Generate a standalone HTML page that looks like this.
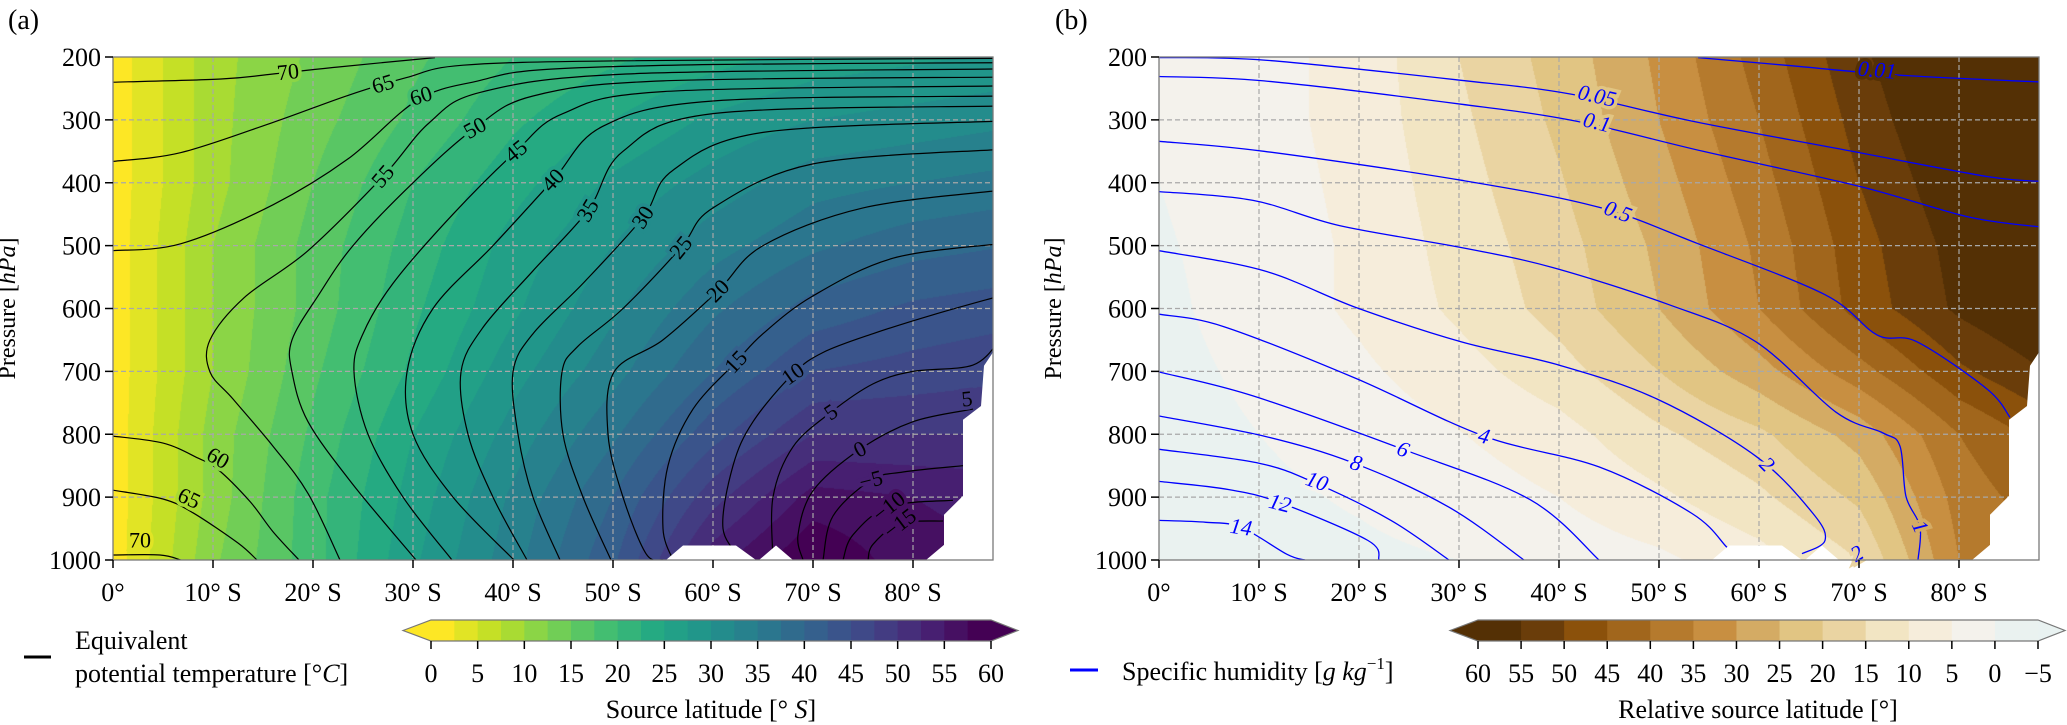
<!DOCTYPE html>
<html><head><meta charset="utf-8">
<style>
html,body{margin:0;padding:0;background:#fff;}
#root{position:relative;width:2067px;height:725px;overflow:hidden;font-family:"Liberation Serif","DejaVu Serif",serif;}
canvas{position:absolute;}
svg{position:absolute;left:0;top:0;}
</style></head>
<body>
<div id="root">
<canvas id="fieldA" width="880" height="503" style="left:113px;top:57px"></canvas>
<canvas id="fieldB" width="880" height="503" style="left:1159px;top:57px"></canvas>
<svg id="ov" width="2067" height="725" xmlns="http://www.w3.org/2000/svg"></svg>
</div>
<script>
// ---------------- DATA ----------------
const gridLats=[0,10,20,30,40,50,60,70,80,90];
const gridPres=[200,300,400,500,600,700,800,900,1000];
// panel (a) source latitude [deg S]
const srcLat=[
[1,9,13,17,20,22,24,26,27,28],
[1,9,14,18,22,25,28,30,31,32],
[1,9,15,20,24,28,31,34,35,36],
[1,10,16,21,26,30,34,37,39,40],
[1,10,16,22,27,32,37,41,43,44],
[1,10,17,23,29,34,40,45,46,47],
[1,11,18,25,31,37,44,50,50,50],
[1,11,19,26,33,40,49,56,55,54],
[1,12,19,27,34,42,54,60,56,55]];
// panel (b) relative source latitude [deg]
const relLat=[
[1,3,7,15,22,31,42,54,62,66],
[0.5,3,7,14,21,30,40,52,61,65],
[0,2.5,6.5,13,19.5,28,38,50,59,64],
[-0.5,2,6,12,18,26,36,48,57,63],
[-1,2,6,11,17,25,35,47,56,62],
[-1.5,1,4,8,13,20,28,38,49,56],
[-2,0,2,4.8,8,14,19,27,40,48],
[-2,-1,0.5,2.5,5,9,14,21,37,44],
[-2,-1.5,-1,0,2,4,8,15,35,40]];
// equivalent potential temperature contours (level, [lat,p] points)
const thetaLevels=[70,65,60,55,50,45,40,35,30,25,20,15,10,5,0,-5,-10,-15,60,65,70];
const thetaLines=[
[[0,240],[10.8,235],[16,227],[22.4,216],[32.2,201]],
[[0,366],[6.8,352],[16,304],[23.5,261],[29.3,233],[35,213],[51,206],[88.7,202]],
[[0,508],[6.8,497],[16,435],[23.5,362],[30.5,268],[36.5,238],[43,220],[60,212],[88.7,209]],
[[88.7,219],[51.3,227],[36.8,256],[31.6,305],[27,390],[19.5,508],[13.1,583],[9.7,650],[9.7,701],[12,744],[16,819],[19.5,894],[22.7,1000]],
[[88.7,232],[55,238],[42,262],[36.2,313],[30,400],[24,500],[20.5,580],[17.9,650],[17.9,701],[19.5,780],[24,880],[30.3,1000]],
[[88.7,246],[55,255],[45,290],[40.3,350],[34,450],[28,560],[25,640],[24.1,701],[25.5,800],[29,900],[33.9,1000]],
[[88.7,262],[60,270],[49,310],[44,396],[38,500],[32,600],[29.4,701],[30,800],[34,900],[40.1,1000]],
[[88.7,278],[60,290],[51,350],[47.5,444],[42,540],[37,630],[34.8,701],[35.5,800],[38,900],[41.4,1000]],
[[88.7,302],[65,320],[56,380],[53,455],[47,560],[42,640],[40,701],[40.5,800],[42,900],[44.7,1000]],
[[88.7,347],[70,370],[60,440],[56.8,503],[51,600],[46.5,660],[44.9,701],[45,800],[47,900],[49.8,1000]],
[[88.7,412],[75,440],[65,500],[60.5,572],[55,650],[50.1,701],[49.5,800],[51,900],[53.3,990],[55,1000]],
[[88.7,497],[78,520],[70,580],[65,640],[62.3,685],[58,760],[55.5,850],[55,950],[56,1000]],
[[88.7,580],[82,610],[76,640],[71,670],[68,704],[64,780],[62,850],[61,950],[63,1000]],
[[88.7,650],[86,690],[80,700],[76,720],[71.8,765],[68,820],[66,900],[66,1000]],
[[86,760],[80,780],[74.7,824],[70,890],[68.5,960],[69,1000]],
[[85,850],[79,860],[75.8,873],[72,930],[71,1000]],
[[84,905],[77.6,915],[74,960],[73,1000]],
[[83,938],[78.7,942],[76,975],[75.5,1000]],
[[0,803],[5,814],[8.5,838],[10.5,856],[13.7,907],[16,955],[18.6,1000]],
[[0,889],[5,903],[8,925],[12.5,973],[14.4,1000]],
[[0,992],[4.7,992],[6.8,1000]]];
const thetaLabelText=["70","65","60","55","50","45","40","35","30","25","20","15","10","5","0","−5","−10","−15","60","65","70","5"];
const thetaLabelLine=[0,1,2,3,4,5,6,7,8,9,10,11,12,13,14,15,16,17,18,19,20,13];
const thetaLabelPos=[[17.5,224],[27,243],[30.8,262],[27,390],[36.2,313],[40.3,350],[44,396],[47.5,444],[53,455],[56.8,503],[60.5,572],[62.3,685],[68,704],[71.8,765],[74.7,824],[75.8,873],[77.6,915],[78.7,942],[10.5,838],[7.6,902],[2.7,969],[85.4,744]];
// specific humidity contours
const qLevels=["0.01","0.05","0.1","0.5","1","2","4","6","8","10","12","14"];
const qLines=[
[[53.9,201],[62.6,213],[74.1,229],[88.6,240]],
[[0,201],[10.5,205],[30.2,237],[41.2,259],[53.3,302],[68.3,347],[82.8,390],[88.6,398]],
[[0,231],[10.5,238],[30.2,275],[41.7,302],[54.4,350],[70.1,406],[81.1,455],[88.6,471]],
[[0,334],[10.5,350],[30.2,396],[44,439],[53.9,497],[66.6,578],[71.8,642],[75.8,653],[82.8,728],[85.1,773]],
[[0,414],[9.4,428],[18,468],[30.2,503],[39.4,535],[51,594],[59.7,653],[67.7,765],[72.4,798],[74.1,819],[74.7,899],[76.1,947],[75.9,1000]],
[[0,508],[10.5,540],[19.8,599],[30.2,653],[40,690],[49.8,744],[59.7,835],[65.4,926],[66.6,969],[64.3,990]],
[[0,609],[6.5,629],[19.8,712],[32.5,803],[44,852],[53.3,926],[56.8,980],[58,1000]],
[[0,701],[9.4,739],[24.4,824],[37.1,904],[44,1000]],
[[0,771],[10.5,803],[19.5,846],[29,916],[36.5,1000]],
[[0,824],[10,846],[15.7,878],[23.2,937],[29,1000]],
[[0,875],[7,888],[12.3,910],[20.9,969],[22,1000]],
[[0,937],[4.7,940],[8.2,948],[12.8,991],[14.6,1000]]];
const qLabelText=["0.01","0.05","0.1","0.5","1","2","4","6","8","10","12","14","2"];
const qLabelLine=[0,1,2,3,4,5,6,7,8,9,10,11,5];
const qLabelPos=[[71.8,221],[43.8,262],[43.8,304],[45.9,446],[76.1,947],[60.8,848],[32.5,803],[24.4,824],[19.7,846],[15.8,875],[12.1,910],[8.2,948],[69.8,990]];
// missing-data (terrain) mask polygons, [lat,p]
const maskRight=[[88.7,653],[87.1,691],[86.8,755],[85,777],[85,898],[83.1,928],[83.1,976],[81.3,1000],[88.8,1000]];
const maskBump1=[[55.3,1000],[57,977],[62.3,977],[64.3,1000]];
const maskBump2=[[64.6,1000],[66.3,977],[68,1000]];
const latTicks=[0,10,20,30,40,50,60,70,80];
const latTickLabels=["0°","10° S","20° S","30° S","40° S","50° S","60° S","70° S","80° S"];
const presTicks=[200,300,400,500,600,700,800,900,1000];
const cbarATicks=[0,5,10,15,20,25,30,35,40,45,50,55,60];
const cbarBTicks=[60,55,50,45,40,35,30,25,20,15,10,5,0,-5];
const brColors=['#543005','#6a3d0a','#8b510b','#a1661c','#b57a2d','#c88f41','#d4ab64','#e1c583','#ead4a2','#f2e5c3','#f6eddb','#f4f2ec','#eaf2f0'];

// ---------------- SCALES ----------------
const LATMAX=88, PX0A=113, PX0B=1159, PW=880, PY0=57, PH=503;
function xA(lat){return PX0A+lat/LATMAX*PW;}
function xB(lat){return PX0B+lat/LATMAX*PW;}
function yP(p){return PY0+(p-200)/800*PH;}
const cbA=v=>431+v/60*560;
const cbB=v=>1478+(60-v)/65*560;

const vstops=[[0x44,0x01,0x54],[0x48,0x24,0x75],[0x41,0x44,0x87],[0x35,0x5f,0x8d],[0x2a,0x78,0x8e],[0x21,0x91,0x8c],[0x22,0xa8,0x84],[0x44,0xbf,0x70],[0x7a,0xd1,0x51],[0xbd,0xdf,0x26],[0xfd,0xe7,0x25]];
function viridis(t){t=Math.max(0,Math.min(1,t));const f=t*10,i=Math.min(9,Math.floor(f)),u=f-i;
 const a=vstops[i],b=vstops[i+1];return [0,1,2].map(k=>Math.round(a[k]+(b[k]-a[k])*u));}
function colA(v){let i=Math.floor(v/2.5);i=Math.max(0,Math.min(23,i));return viridis(1-i/23);}
function hex(h){return [parseInt(h.slice(1,3),16),parseInt(h.slice(3,5),16),parseInt(h.slice(5,7),16)];}
function colB(v){let k=Math.floor((60-v)/5);k=Math.max(0,Math.min(12,k));return hex(brColors[k]);}
function interp(grid,lat,p){
 let i=0;while(i<gridLats.length-2&&lat>gridLats[i+1])i++;
 let j=0;while(j<gridPres.length-2&&p>gridPres[j+1])j++;
 const u=(lat-gridLats[i])/(gridLats[i+1]-gridLats[i]),w=(p-gridPres[j])/(gridPres[j+1]-gridPres[j]);
 return grid[j][i]*(1-u)*(1-w)+grid[j][i+1]*u*(1-w)+grid[j+1][i]*(1-u)*w+grid[j+1][i+1]*u*w;}
function paint(id,grid,cf){
 const c=document.getElementById(id),ctx=c.getContext('2d'),im=ctx.createImageData(PW,PH);
 for(let py=0;py<PH;py++){const p=200+(py+0.5)/PH*800;
  for(let px=0;px<PW;px++){const lat=(px+0.5)/PW*LATMAX;const col=cf(interp(grid,lat,p));const o=(py*PW+px)*4;
   im.data[o]=col[0];im.data[o+1]=col[1];im.data[o+2]=col[2];im.data[o+3]=255;}}
 ctx.putImageData(im,0,0);}
paint('fieldA',srcLat,colA);
paint('fieldB',relLat,colB);

// ---------------- SVG ----------------
const NS='http://www.w3.org/2000/svg',svg=document.getElementById('ov');
function mk(tag,attrs,parent){const e=document.createElementNS(NS,tag);for(const k in attrs)e.setAttribute(k,attrs[k]);(parent||svg).appendChild(e);return e;}
function txt(s,x,y,size,anchor,parent,extra){const t=mk('text',Object.assign({x:x,y:y,'font-size':size,'text-anchor':anchor||'middle','font-family':'"Liberation Serif",serif',fill:'#000'},extra||{}),parent);t.textContent=s;return t;}
function smoothPath(pts){if(pts.length<3)return 'M'+pts.map(q=>q.join(',')).join('L');
 let d='M'+pts[0][0].toFixed(1)+','+pts[0][1].toFixed(1);
 for(let i=0;i<pts.length-1;i++){const p0=pts[Math.max(0,i-1)],p1=pts[i],p2=pts[i+1],p3=pts[Math.min(pts.length-1,i+2)];
  const c1=[p1[0]+(p2[0]-p0[0])/6,p1[1]+(p2[1]-p0[1])/6],c2=[p2[0]-(p3[0]-p1[0])/6,p2[1]-(p3[1]-p1[1])/6];
  d+='C'+c1.map(v=>v.toFixed(1)).join(',')+' '+c2.map(v=>v.toFixed(1)).join(',')+' '+p2[0].toFixed(1)+','+p2[1].toFixed(1);}
 return d;}

function panel(key,xf,grid,cf,lineSets,lineColor,lineW,labTxt,labLine,labPos,labStyle){
 const g=mk('g',{});
 
 
 const x0=xf(0),x1=xf(LATMAX),y0=yP(200),y1=yP(1000);
 const defs=mk('defs',{},g);const cp=mk('clipPath',{id:'clip'+key},defs);mk('rect',{x:x0,y:y0,width:x1-x0,height:y1-y0},cp);
 // grid lines
 const gl=mk('g',{},g);
 
 
 latTicks.forEach(l=>{if(l>0)mk('line',{x1:xf(l),x2:xf(l),y1:y0,y2:y1,stroke:'#a8a8a8','stroke-width':1.2,'stroke-dasharray':'5,3'},gl);});
 presTicks.forEach(p=>{if(p>200&&p<1000)mk('line',{x1:x0,x2:x1,y1:yP(p),y2:yP(p),stroke:'#a8a8a8','stroke-width':1.2,'stroke-dasharray':'5,3'},gl);});
 // contour lines
 const cl=mk('g',{'clip-path':'url(#clip'+key+')'},g);
 lineSets.forEach((pts,i)=>{const path=mk('path',{d:smoothPath(pts.map(q=>[xf(q[0]),yP(q[1])])),fill:'none',stroke:lineColor,'stroke-width':lineW},cl);
  
  });
 // masks
 [maskRight,maskBump1,maskBump2].forEach((m,i)=>{const pg=mk('polygon',{points:m.map(q=>xf(q[0]).toFixed(1)+','+yP(q[1]).toFixed(1)).join(' '),fill:'#fff'},cl);
  
  });
 // contour labels
 labTxt.forEach((s,i)=>{const pos=labPos[i],pts=lineSets[labLine[i]];
  const X=xf(pos[0]),Y=yP(pos[1]);let best=0,bd=1e9;
  for(let k=0;k<pts.length-1;k++){const mx=(xf(pts[k][0])+xf(pts[k+1][0]))/2,my=(yP(pts[k][1])+yP(pts[k+1][1]))/2;const d=(mx-X)**2+(my-Y)**2;if(d<bd){bd=d;best=k;}}
  let dx=xf(pts[best+1][0])-xf(pts[best][0]),dy=yP(pts[best+1][1])-yP(pts[best][1]);if(dx<0){dx=-dx;dy=-dy;}
  const ang=Math.atan2(dy,dx)*180/Math.PI;
  const bg=cf(interp(grid,Math.min(pos[0],LATMAX),pos[1]));
  const t=txt(s,X,Y+7,22,'middle',g,Object.assign({transform:'rotate('+ang.toFixed(1)+' '+X+' '+Y+')',stroke:'rgb('+bg.join(',')+')','stroke-width':7,'paint-order':'stroke'},labStyle));
  
  });
 // frame
 const fr=mk('rect',{x:x0,y:y0,width:x1-x0,height:y1-y0,fill:'none',stroke:'#7a7a7a','stroke-width':1.3},g);
 
 
 // x ticks
 const xa=mk('g',{},g);
 
 
 latTicks.forEach((l,i)=>{mk('line',{x1:xf(l),x2:xf(l),y1:y1,y2:y1+8,stroke:'#000','stroke-width':1.5},xa);
  const t=txt(latTickLabels[i],xf(l),601,26,'middle',xa);
  
  });
 // y ticks
 const ya=mk('g',{},g);
 
 
 presTicks.forEach(p=>{mk('line',{x1:x0-8,x2:x0,y1:yP(p),y2:yP(p),stroke:'#000','stroke-width':1.5},ya);
  const t=txt(String(p),x0-12,yP(p)+9,26,'end',ya);
  
  });
 const yl=txt('',0,0,24,'middle',ya,{transform:'translate('+(x0-98)+','+((y0+y1)/2)+') rotate(-90)'});
 
 
 yl.innerHTML='Pressure [<tspan font-style="italic">hPa</tspan>]';
}
panel('a',xA,srcLat,colA,thetaLines,'#000',1.2,thetaLabelText,thetaLabelLine,thetaLabelPos,{});
panel('b',xB,relLat,colB,qLines,'#0000ff',1.3,qLabelText,qLabelLine,qLabelPos,{fill:'#0000ff','font-style':'italic'});

const la=txt('(a)',8,29,28,'start');


const lb=txt('(b)',1055,29,28,'start');



// colorbar A
const cA=mk('g',{});


const yb0=620,yb1=641,ym=(yb0+yb1)/2;
mk('polygon',{points:`${cbA(0)-28},${ym} ${cbA(0)},${yb0} ${cbA(0)},${yb1}`,fill:'rgb('+colA(0).join(',')+')'},cA);
for(let i=0;i<24;i++){mk('rect',{x:cbA(i*2.5),y:yb0,width:cbA(2.5)-cbA(0)+0.5,height:yb1-yb0,fill:'rgb('+colA(i*2.5+1).join(',')+')'},cA);}
mk('polygon',{points:`${cbA(60)},${yb0} ${cbA(60)+27},${ym} ${cbA(60)},${yb1}`,fill:'rgb('+colA(61).join(',')+')'},cA);
mk('polygon',{points:`${cbA(0)-28},${ym} ${cbA(0)},${yb0} ${cbA(60)},${yb0} ${cbA(60)+27},${ym} ${cbA(60)},${yb1} ${cbA(0)},${yb1}`,fill:'none',stroke:'#777','stroke-width':1.2},cA);
cbarATicks.forEach(v=>{mk('line',{x1:cbA(v),x2:cbA(v),y1:yb1,y2:yb1+8,stroke:'#000','stroke-width':1.5},cA);
 const t=txt(String(v),cbA(v),682,26,'middle',cA);
 
 });
const tA=txt('',711,718,26,'middle',cA);


tA.innerHTML='Source latitude [° <tspan font-style="italic">S</tspan>]';

// colorbar B
const cB=mk('g',{});


mk('polygon',{points:`${cbB(60)-28},${ym} ${cbB(60)},${yb0} ${cbB(60)},${yb1}`,fill:brColors[0]},cB);
for(let k=0;k<13;k++){mk('rect',{x:cbB(60-k*5),y:yb0,width:cbB(55)-cbB(60)+0.5,height:yb1-yb0,fill:brColors[k]},cB);}
mk('polygon',{points:`${cbB(-5)},${yb0} ${cbB(-5)+27},${ym} ${cbB(-5)},${yb1}`,fill:'#e9f2f1'},cB);
mk('polygon',{points:`${cbB(60)-28},${ym} ${cbB(60)},${yb0} ${cbB(-5)},${yb0} ${cbB(-5)+27},${ym} ${cbB(-5)},${yb1} ${cbB(60)},${yb1}`,fill:'none',stroke:'#777','stroke-width':1.2},cB);
cbarBTicks.forEach(v=>{mk('line',{x1:cbB(v),x2:cbB(v),y1:yb1,y2:yb1+8,stroke:'#000','stroke-width':1.5},cB);
 const t=txt(v<0?'−'+(-v):String(v),cbB(v),682,26,'middle',cB);
 
 });
const tB=txt('Relative source latitude [°]',1758,718,26,'middle',cB);



// legends
const lgA=mk('g',{});


mk('line',{x1:24,x2:51,y1:657,y2:657,stroke:'#000','stroke-width':3},lgA);
txt('Equivalent',75,649,26,'start',lgA);
const lt=txt('',75,682,26,'start',lgA);lt.innerHTML='potential temperature [°<tspan font-style="italic">C</tspan>]';
const lgB=mk('g',{});


mk('line',{x1:1070,x2:1098,y1:670,y2:670,stroke:'#0000ff','stroke-width':3},lgB);
const lq=txt('',1122,680,26,'start',lgB);
lq.innerHTML='Specific humidity [<tspan font-style="italic">g kg</tspan><tspan font-size="17" dy="-11">−1</tspan><tspan dy="11">]</tspan>';
</script>
</body></html>
